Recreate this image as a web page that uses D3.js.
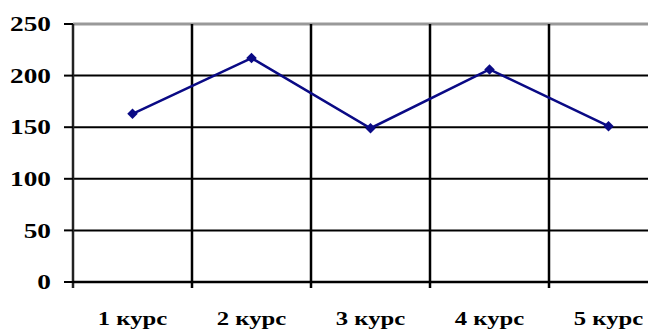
<!DOCTYPE html>
<html>
<head>
<meta charset="utf-8">
<script src="https://cdn.jsdelivr.net/npm/d3@7"></script>
<style>
  html, body { margin: 0; padding: 0; background: #fff; }
  svg { display: block; }
</style>
</head>
<body>
<svg id="chart" width="648" height="336"></svg>
<script>
// Course data
const courses = ["1 курс", "2 курс", "3 курс", "4 курс", "5 курс"];
const values = [163, 217, 149, 206, 151];
const yTicks = [0, 50, 100, 150, 200, 250];

const svg = d3.select("#chart");
const plotLeft = 73, plotRight = 668, plotTop = 24, plotBottom = 282;
const serif = "'Liberation Serif', 'Times New Roman', 'DejaVu Serif', serif";
const stretch = 1.3; // labels are drawn wide

const x = d3.scaleBand().domain(courses).range([plotLeft, plotRight]).padding(0);
const y = d3.scaleLinear().domain([0, 250]).range([plotBottom, plotTop]);

// Horizontal gridlines
svg.append("g").selectAll("line")
  .data(yTicks.filter(d => d > 0 && d < 250))
  .join("line")
  .attr("x1", plotLeft).attr("x2", plotRight)
  .attr("y1", d => y(d)).attr("y2", d => y(d))
  .attr("stroke", "#000").attr("stroke-width", 2);

// Top border
svg.append("line")
  .attr("x1", plotLeft).attr("x2", plotRight)
  .attr("y1", y(250)).attr("y2", y(250))
  .attr("stroke", "#999").attr("stroke-width", 3);

// Vertical gridlines at category boundaries
const bounds = courses.slice(1).map(c => x(c));
svg.append("g").selectAll("line")
  .data(bounds)
  .join("line")
  .attr("x1", d => d).attr("x2", d => d)
  .attr("y1", plotTop).attr("y2", plotBottom + 6)
  .attr("stroke", "#000").attr("stroke-width", 2.5);

// Left axis
svg.append("line")
  .attr("x1", plotLeft).attr("x2", plotLeft)
  .attr("y1", plotTop).attr("y2", plotBottom + 6)
  .attr("stroke", "#222").attr("stroke-width", 2.5);
// Bottom axis
svg.append("line")
  .attr("x1", plotLeft).attr("x2", plotRight)
  .attr("y1", plotBottom).attr("y2", plotBottom)
  .attr("stroke", "#000").attr("stroke-width", 2.5);

// Y ticks and labels
const yg = svg.append("g");
yg.selectAll("line")
  .data(yTicks)
  .join("line")
  .attr("x1", plotLeft - 9).attr("x2", plotLeft)
  .attr("y1", d => y(d)).attr("y2", d => y(d))
  .attr("stroke", "#000").attr("stroke-width", 2);
yg.selectAll("text")
  .data(yTicks)
  .join("text")
  .attr("transform", d => `translate(51,${y(d)}) scale(${stretch},1)`)
  .attr("dy", "0.34em")
  .attr("text-anchor", "end")
  .attr("font-family", serif)
  .attr("font-weight", "bold")
  .attr("font-size", 21)
  .attr("fill", "#000")
  .text(d => d);

// X labels
svg.append("g").selectAll("text")
  .data(courses)
  .join("text")
  .attr("transform", d => `translate(${x(d) + x.bandwidth() / 2},325) scale(${stretch},1)`)
  .attr("text-anchor", "middle")
  .attr("font-family", serif)
  .attr("font-weight", "bold")
  .attr("font-size", 19)
  .attr("fill", "#000")
  .text(d => d);

// Line series
const line = d3.line()
  .x((d, i) => x(courses[i]) + x.bandwidth() / 2)
  .y(d => y(d));
svg.append("path")
  .datum(values)
  .attr("d", line)
  .attr("fill", "none")
  .attr("stroke", "#0a0a85")
  .attr("stroke-width", 2.5);

// Diamond markers
svg.append("g").selectAll("path")
  .data(values)
  .join("path")
  .attr("transform", (d, i) => `translate(${x(courses[i]) + x.bandwidth() / 2},${y(d)})`)
  .attr("d", d3.symbol(d3.symbolDiamond2, 70))
  .attr("fill", "#0a0a85");
</script>
</body>
</html>
